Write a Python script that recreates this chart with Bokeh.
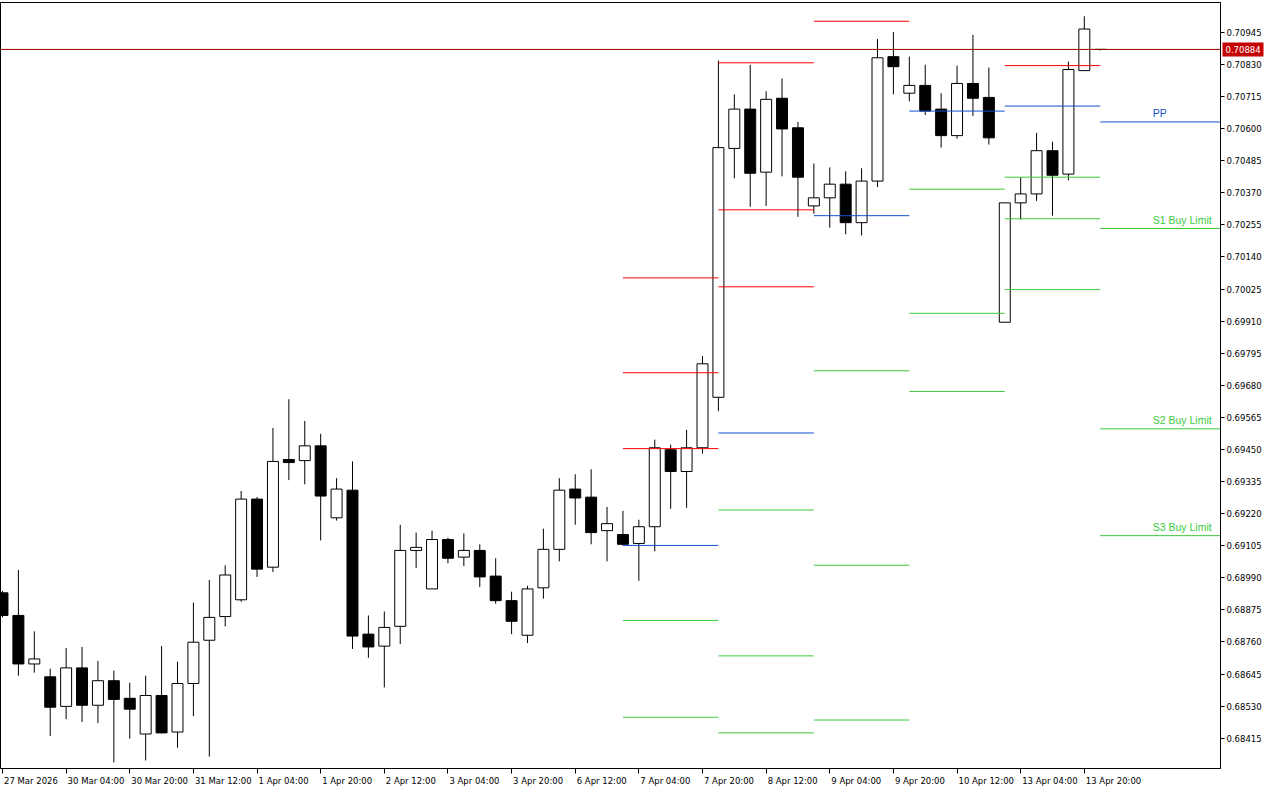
import math
from bokeh.plotting import figure
from bokeh.models import Range1d, FixedTicker, Span, ColumnDataSource, LinearAxis
from bokeh.embed import file_html
from bokeh.resources import INLINE
from bokeh.core.properties import value

nan = float("nan")

# ---- 4H candles (bar index 0 = 27 Mar 12:00) ----
bar_index = list(range(70))
open_ = [0.68936, 0.68855, 0.68681, 0.68635, 0.68529, 0.68667, 0.68533, 0.68621, 0.68558, 0.68430,
         0.68568, 0.68437, 0.68611, 0.68766, 0.68851, 0.68911, 0.69272, 0.69028, 0.69414, 0.69410,
         0.69463, 0.69205, 0.69304, 0.68788, 0.68745, 0.68816, 0.69088, 0.68950, 0.69127, 0.69064,
         0.69088, 0.68996, 0.68908, 0.68784, 0.68954, 0.69092, 0.69308, 0.69279, 0.69159, 0.69145,
         0.69113, 0.69173, 0.69449, 0.69371, 0.69456, 0.69637, 0.70529, 0.70670, 0.70444, 0.70709,
         0.70603, 0.70323, 0.70352, 0.70401, 0.70263, 0.70412, 0.70858, 0.70727, 0.70755, 0.70670,
         0.70575, 0.70762, 0.70712, 0.69906, 0.70334, 0.70366, 0.70521, 0.70437, 0.70808, 0.70884]
high = [0.68943, 0.69018, 0.68798, 0.68664, 0.68738, 0.68742, 0.68692, 0.68657, 0.68614, 0.68639,
        0.68745, 0.68689, 0.68901, 0.68982, 0.69035, 0.69301, 0.69279, 0.69527, 0.69630, 0.69552,
        0.69506, 0.69347, 0.69407, 0.68855, 0.68869, 0.69180, 0.69152, 0.69159, 0.69134, 0.69149,
        0.69110, 0.69060, 0.68940, 0.68961, 0.69166, 0.69347, 0.69361, 0.69379, 0.69244, 0.69230,
        0.69198, 0.69485, 0.69467, 0.69520, 0.69785, 0.70844, 0.70723, 0.70829, 0.70734, 0.70780,
        0.70624, 0.70475, 0.70461, 0.70447, 0.70458, 0.70921, 0.70946, 0.70858, 0.70829, 0.70727,
        0.70826, 0.70936, 0.70819, 0.70334, 0.70426, 0.70585, 0.70553, 0.70840, 0.71003, 0.70885]
low = [0.68848, 0.68639, 0.68650, 0.68423, 0.68483, 0.68473, 0.68469, 0.68328, 0.68413, 0.68335,
       0.68432, 0.68381, 0.68494, 0.68349, 0.68816, 0.68904, 0.68993, 0.69011, 0.69340, 0.69325,
       0.69124, 0.69195, 0.68735, 0.68703, 0.68597, 0.68752, 0.69025, 0.68950, 0.69042, 0.69032,
       0.68957, 0.68897, 0.68788, 0.68756, 0.68915, 0.69049, 0.69180, 0.69110, 0.69049, 0.69106,
       0.68979, 0.69085, 0.69237, 0.69241, 0.69435, 0.69587, 0.70422, 0.70320, 0.70323, 0.70429,
       0.70284, 0.70295, 0.70245, 0.70221, 0.70217, 0.70391, 0.70723, 0.70698, 0.70649, 0.70532,
       0.70564, 0.70645, 0.70543, 0.69906, 0.70274, 0.70341, 0.70288, 0.70415, 0.70808, 0.70880]
close = [0.68855, 0.68681, 0.68699, 0.68526, 0.68667, 0.68533, 0.68621, 0.68554, 0.68519, 0.68568,
         0.68434, 0.68611, 0.68759, 0.68848, 0.69000, 0.69272, 0.69021, 0.69407, 0.69403, 0.69463,
         0.69283, 0.69308, 0.68781, 0.68742, 0.68812, 0.69088, 0.69099, 0.69127, 0.69060, 0.69088,
         0.68993, 0.68908, 0.68834, 0.68950, 0.69092, 0.69304, 0.69276, 0.69152, 0.69184, 0.69110,
         0.69173, 0.69456, 0.69371, 0.69456, 0.69757, 0.70532, 0.70670, 0.70440, 0.70705, 0.70599,
         0.70426, 0.70352, 0.70401, 0.70263, 0.70412, 0.70854, 0.70822, 0.70755, 0.70663, 0.70575,
         0.70762, 0.70709, 0.70567, 0.70334, 0.70366, 0.70521, 0.70433, 0.70812, 0.70957, 0.70884]

current_price = 0.70884

# ---- daily pivot levels (7 Apr .. 14 Apr) ----
pivot_start = [39, 45, 51, 57, 63, 69]
pivot_end = [45, 51, 57, 63, 69, 80]
R3 = [0.70065, 0.70836, nan, nan, nan, nan]
R2 = [0.69725, 0.70309, nan, nan, nan, nan]
R1 = [0.69453, 0.70033, 0.70985, nan, 0.70826, nan]
PP = [0.69106, 0.69509, 0.70288, 0.70663, 0.70681, 0.70624]
S1 = [0.68837, 0.69233, 0.69732, 0.70383, 0.70426, 0.70242]
S2 = [0.68490, 0.68710, 0.69035, 0.69938, 0.70277, 0.69524]
S3 = [nan, 0.68434, 0.68480, 0.69658, 0.70023, 0.69141]
last_labels = ["PP", "S1 Buy Limit", "S2 Buy Limit", "S3 Buy Limit"]
label_x = 72.3

# ---- axes ----
x_ticks = [0, 4, 8, 12, 16, 20, 24, 28, 32, 36, 40, 44, 48, 52, 56, 60, 64, 68]
x_tick_labels = ["27 Mar 2026", "30 Mar 04:00", "30 Mar 20:00", "31 Mar 12:00", "1 Apr 04:00",
                 "1 Apr 20:00", "2 Apr 12:00", "3 Apr 04:00", "3 Apr 20:00", "6 Apr 12:00",
                 "7 Apr 04:00", "7 Apr 20:00", "8 Apr 12:00", "9 Apr 04:00", "9 Apr 20:00",
                 "10 Apr 12:00", "13 Apr 04:00", "13 Apr 20:00"]
y_ticks = [0.68415, 0.68530, 0.68645, 0.68760, 0.68875, 0.68990, 0.69105, 0.69220, 0.69335,
           0.69450, 0.69565, 0.69680, 0.69795, 0.69910, 0.70025, 0.70140, 0.70255, 0.70370,
           0.70485, 0.70600, 0.70715, 0.70830, 0.70945]

RED = "#FF0000"
BLUE = "#1450D2"
GREEN = "#3CCB3C"
FONT = "DejaVu Sans"
FS = 8.5
X0, X1 = -0.125, 76.56
FRAME_W, FRAME_H = 1220, 766

p = figure(frame_width=FRAME_W, frame_height=FRAME_H, output_backend="svg", toolbar_location=None,
           x_range=Range1d(X0, X1), y_range=Range1d(0.683063, 0.710522),
           y_axis_location="right", min_border_left=0, min_border_top=2,
           min_border_right=0, min_border_bottom=0)
p.background_fill_color = "white"
p.border_fill_color = "white"
p.outline_line_color = "black"
p.outline_line_width = 1
p.grid.visible = False

# candles
up = [c >= o for o, c in zip(open_, close)]
src = ColumnDataSource(dict(
    x=bar_index, high=high, low=low,
    top=[max(o, c) for o, c in zip(open_, close)],
    bottom=[min(o, c) for o, c in zip(open_, close)],
    fill=["white" if u else "black" for u in up],
))
p.segment(x0="x", y0="high", x1="x", y1="low", source=src, line_color="black", line_width=1)
p.vbar(x="x", width=0.69, top="top", bottom="bottom", source=src,
       fill_color="fill", line_color="black", line_width=1)

# current price line
p.add_layout(Span(location=current_price, dimension="width", line_color="#A00000", line_width=1))

# pivot segments
def seg(levels, color):
    xs0, xs1, ys = [], [], []
    for s, e, v in zip(pivot_start, pivot_end, levels):
        if not math.isnan(v):
            xs0.append(s); xs1.append(e); ys.append(v)
    p.segment(x0=xs0, y0=ys, x1=xs1, y1=ys, line_color=color, line_width=1)

for lv in (R3, R2, R1):
    seg(lv, RED)
seg(PP, BLUE)
for lv in (S1, S2, S3):
    seg(lv, GREEN)

lab_y = [PP[-1], S1[-1], S2[-1], S3[-1]]
p.text(x=[label_x] * 4, y=lab_y, text=last_labels,
       text_color=[BLUE, GREEN, GREEN, GREEN], text_font=value("Liberation Sans"),
       text_font_size="10.5px", text_align="left", text_baseline="bottom", y_offset=-3)

# ---- right price axis ----
p.yaxis.ticker = FixedTicker(ticks=y_ticks)
p.yaxis.major_label_overrides = {t: f"{t:.5f}" for t in y_ticks}
p.yaxis.major_label_text_font = FONT
p.yaxis.major_label_text_font_size = f"{FS}px"
p.yaxis.major_label_text_color = "black"
p.yaxis.major_tick_out = 4
p.yaxis.major_tick_in = 0
p.yaxis.minor_tick_out = 0
p.yaxis.minor_tick_in = 0
p.yaxis.major_label_standoff = 2
p.yaxis.axis_line_color = "black"

# ---- bottom time axis: tick marks on the main axis, left-aligned labels on a second one ----
p.xaxis.ticker = FixedTicker(ticks=x_ticks)
p.xaxis.major_label_overrides = {t: "" for t in x_ticks}
p.xaxis.major_label_text_font_size = "1px"
p.xaxis.major_tick_out = 5
p.xaxis.major_tick_in = 0
p.xaxis.minor_tick_out = 0
p.xaxis.minor_tick_in = 0
p.xaxis.major_label_standoff = 0
p.xaxis.axis_line_color = "black"

CW = {d: 0.636 for d in "0123456789"}
CW.update({" ": 0.318, ":": 0.337, "M": 0.863, "a": 0.613, "r": 0.411, "A": 0.684, "p": 0.635})
px_per_unit = FRAME_W / (X1 - X0)
label_pos = []
for t, l in zip(x_ticks, x_tick_labels):
    w = sum(CW.get(ch, 0.6) for ch in l) * FS
    label_pos.append(t + (w / 2 + 1.5) / px_per_unit)
lab_axis = LinearAxis(ticker=FixedTicker(ticks=label_pos),
                      major_label_overrides={lp: l for lp, l in zip(label_pos, x_tick_labels)})
lab_axis.major_label_text_font = FONT
lab_axis.major_label_text_font_size = f"{FS}px"
lab_axis.major_label_text_color = "black"
lab_axis.major_tick_out = 0
lab_axis.major_tick_in = 0
lab_axis.minor_tick_out = 0
lab_axis.minor_tick_in = 0
lab_axis.major_label_standoff = 2
lab_axis.axis_line_color = None
p.add_layout(lab_axis, "below")

# current price tag over the price axis (overlay level -> not clipped to the frame)
tag_w, tag_h = 41, 14
p.rect(x=[X1 + (2 + tag_w / 2) / px_per_unit], y=[current_price], width=tag_w, height=tag_h,
       width_units="screen", height_units="screen", fill_color="#C40000", line_color=None,
       level="overlay")
p.text(x=[X1], y=[current_price], text=[f"{current_price:.5f}"], x_offset=5,
       text_align="left", text_baseline="middle", text_color="white",
       text_font=value(FONT), text_font_size=f"{FS}px", level="overlay")

open("out.html", "w").write(file_html(p, INLINE))
